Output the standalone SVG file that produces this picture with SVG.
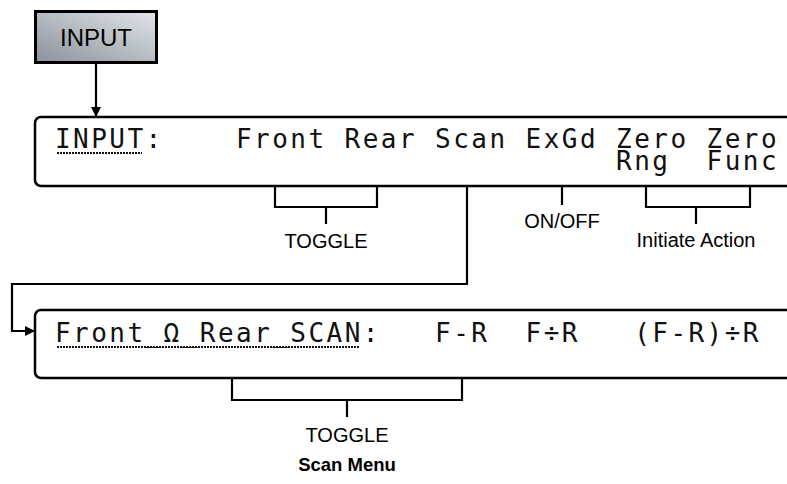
<svg xmlns="http://www.w3.org/2000/svg" width="787" height="484" viewBox="0 0 787 484">
  <defs>
    <linearGradient id="btnGrad" x1="0" y1="1" x2="1" y2="0">
      <stop offset="0" stop-color="#8b919a"/>
      <stop offset="1" stop-color="#e2e6eb"/>
    </linearGradient>
    <marker id="arrow" viewBox="0 0 10 10" refX="10" refY="5" markerWidth="10" markerHeight="10" markerUnits="userSpaceOnUse" orient="auto">
      <path d="M0,0 L10,5 L0,10 Z" fill="#000"/>
    </marker>
    <style>
      .lcd { font-family: "DejaVu Sans Mono", "Liberation Mono", monospace; font-size: 26px; letter-spacing: 2.45px; fill: #111; }
      .lbl { font-family: "Liberation Sans", Arial, sans-serif; font-size: 20px; fill: #000; text-anchor: middle; }
      .ttl { font-family: "Liberation Sans", Arial, sans-serif; font-size: 18.5px; font-weight: bold; fill: #000; text-anchor: middle; }
      .box { fill: #fff; stroke: #000; stroke-width: 2.5; }
      .ln { fill: none; stroke: #000; stroke-width: 2.2; }
      .ul { fill: none; stroke: #111; stroke-width: 2; stroke-dasharray: 2 1; }
    </style>
  </defs>

  <g id="input-button">
    <rect x="35.5" y="11.5" width="121" height="51" fill="url(#btnGrad)" stroke="#000" stroke-width="3"/>
    <text x="96" y="46" font-family="'Liberation Sans', Arial, sans-serif" font-size="24" text-anchor="middle" fill="#000">INPUT</text>
  </g>

  <g id="input-display">
    <rect class="box" x="35" y="117" width="780" height="69" rx="6"/>
    <text class="lcd" x="55" y="148">INPUT:</text>
    <line class="ul" x1="57" y1="153" x2="142" y2="153"/>
    <text class="lcd" x="236" y="148">Front</text>
    <text class="lcd" x="344.6" y="148">Rear</text>
    <text class="lcd" x="435.1" y="148">Scan</text>
    <text class="lcd" x="525.6" y="148">ExGd</text>
    <text class="lcd" x="616.1" y="148">Zero</text>
    <text class="lcd" x="706.6" y="148">Zero</text>
    <text class="lcd" x="616.1" y="170">Rng</text>
    <text class="lcd" x="706.6" y="170">Func</text>
  </g>

  <g id="scan-display">
    <rect class="box" x="35" y="310" width="780" height="68" rx="6"/>
    <text class="lcd" x="55" y="342">Front_Ω_Rear_SCAN:</text>
    <line class="ul" x1="57" y1="347" x2="360" y2="347"/>
    <text class="lcd" x="435.1" y="342">F-R</text>
    <text class="lcd" x="525.6" y="342">F÷R</text>
    <text class="lcd" x="634.2" y="342">(F-R)÷R</text>
  </g>

  <g id="label-toggle-1"><text class="lbl" x="326" y="248">TOGGLE</text></g>
  <g id="label-onoff"><text class="lbl" x="562" y="228">ON/OFF</text></g>
  <g id="label-initiate"><text class="lbl" x="696" y="247">Initiate Action</text></g>
  <g id="label-toggle-2"><text class="lbl" x="347" y="442">TOGGLE</text></g>
  <g id="title"><text class="ttl" x="347" y="471">Scan Menu</text></g>

  <g id="connectors">
    <line class="ln" x1="96" y1="64" x2="96" y2="117" marker-end="url(#arrow)"/>
    <polyline class="ln" points="275,186 275,207 377,207 377,186"/>
    <line class="ln" x1="326" y1="207" x2="326" y2="224"/>
    <line class="ln" x1="562" y1="186" x2="562" y2="205"/>
    <polyline class="ln" points="646,186 646,207 750,207 750,186"/>
    <line class="ln" x1="696" y1="207" x2="696" y2="224"/>
    <polyline class="ln" points="467,186 467,284 12,284 12,331 35,331" marker-end="url(#arrow)"/>
    <polyline class="ln" points="232,378 232,400 462,400 462,378"/>
    <line class="ln" x1="347" y1="400" x2="347" y2="417"/>
  </g>
</svg>
